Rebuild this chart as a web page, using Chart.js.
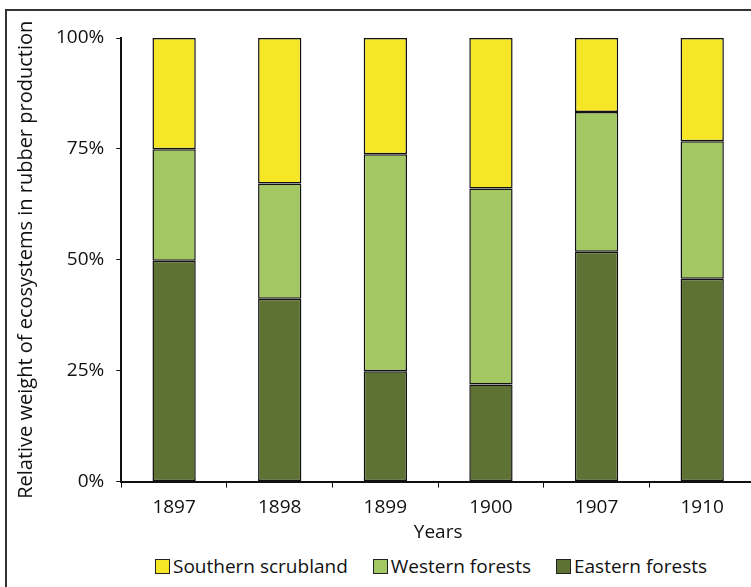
<!DOCTYPE html>
<html>
<head>
<meta charset="utf-8">
<script src="https://cdn.jsdelivr.net/npm/chart.js@4.4.0/dist/chart.umd.min.js"></script>
<style>
  html, body { margin: 0; padding: 0; background: #fff; overflow: hidden; }
  #frame {
    position: absolute; left: 5px; top: 9px; width: 900px; height: 700px;
    border-left: 2px solid #333; border-top: 2px solid #333;
  }
  #wrap { position: absolute; left: 0; top: 0; width: 755px; height: 550px; }
  #legend {
    position: absolute; left: 155px; top: 553px; display: flex; align-items: center;
    font-family: 'Open Sans', sans-serif; font-size: 19px; color: #111; white-space: nowrap;
  }
  #legend .item { display: flex; align-items: center; margin-right: 25px; }
  #legend .box { width: 15px; height: 15px; box-sizing: border-box; border: 1px solid #222; margin-right: 3px; }
</style>
</head>
<body>
<div id="frame"></div>
<div id="wrap"><canvas id="rubberChart"></canvas></div>
<div id="legend"></div>
<script>
// categories & series (percent share of each ecosystem)
const years = ['1897', '1898', '1899', '1900', '1907', '1910'];
const eastern = [49.8, 41.2, 24.9, 21.9, 51.8, 45.7];
const western = [25.1, 26.0, 48.9, 44.2, 31.5, 31.0];
const southern = [25.1, 32.8, 26.2, 33.9, 16.7, 23.3];
const yTicks = [0, 25, 50, 75, 100];

Chart.defaults.font.family = "'Open Sans', sans-serif";
Chart.defaults.font.size = 19;
Chart.defaults.color = '#111';

const ctx = document.getElementById('rubberChart').getContext('2d');
const rubberChart = new Chart(ctx, {
    type: 'bar',
    data: {
        labels: years,
        datasets: [
            { label: 'Eastern forests', data: eastern, backgroundColor: '#5e7233' },
            { label: 'Western forests', data: western, backgroundColor: '#a3c762' },
            { label: 'Southern scrubland', data: southern, backgroundColor: '#f5e626' }
        ].map(d => Object.assign(d, {
            borderColor: '#111', borderWidth: 1.5, borderSkipped: false,
            barPercentage: 0.41, categoryPercentage: 1
        }))
    },
    options: {
        responsive: true,
        maintainAspectRatio: false,
        animation: false,
        layout: { padding: { top: 38, left: 10, right: 0, bottom: 12 } },
        plugins: {
            legend: { display: false },
            tooltip: { enabled: false }
        },
        scales: {
            x: {
                stacked: true,
                grid: { display: true, drawOnChartArea: false, offset: true, tickLength: 6, color: '#111' },
                border: { color: '#111', width: 2 },
                ticks: { padding: 10, font: { lineHeight: 1 } },
                title: { display: true, text: 'Years', font: { size: 19, lineHeight: 0.6 }, padding: { top: 0, bottom: 0 } }
            },
            y: {
                stacked: true,
                min: 0, max: 100,
                afterBuildTicks: axis => { axis.ticks = yTicks.map(v => ({ value: v })); },
                grid: { display: true, drawOnChartArea: false, tickLength: 5, color: '#111' },
                border: { color: '#111', width: 2 },
                ticks: { callback: v => v + '%', padding: 12 },
                title: {
                    display: true, text: 'Relative weight of ecosystems in rubber production',
                    font: { size: 20 }, padding: { bottom: 6 }
                }
            }
        }
    }
});

// legend, top series first
const legendEl = document.getElementById('legend');
rubberChart.data.datasets.slice().reverse().forEach(ds => {
    const item = document.createElement('div');
    item.className = 'item';
    item.innerHTML = '<span class="box" style="background:' + ds.backgroundColor + '"></span>' + ds.label;
    legendEl.appendChild(item);
});
</script>
</body>
</html>
